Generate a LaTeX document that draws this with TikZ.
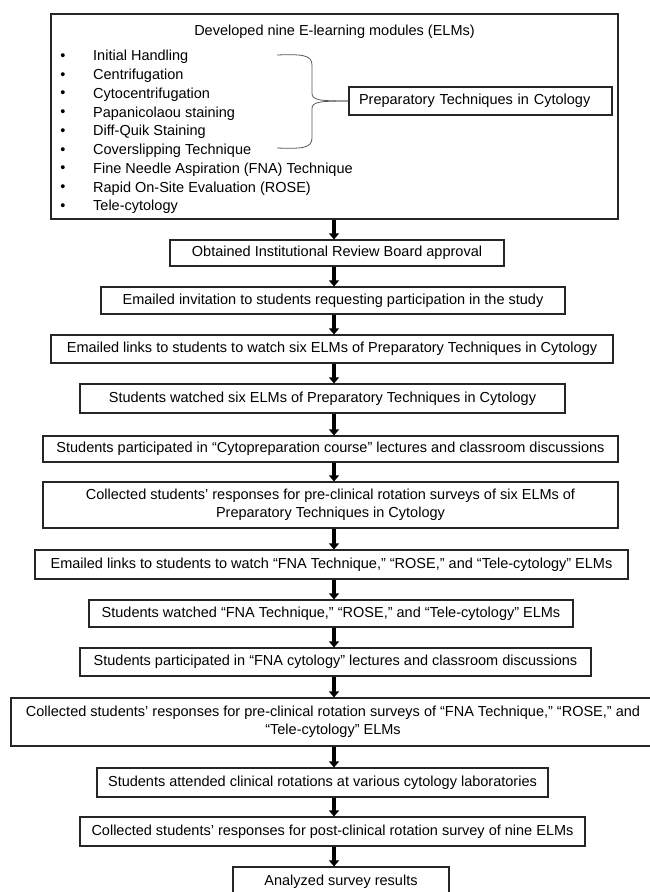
\documentclass[tikz,border=0pt]{standalone}
\usepackage{fontspec}
\setmainfont{Liberation Sans}
\usetikzlibrary{arrows.meta}

\newcommand{\flowfont}{\fontsize{14.5}{18.4}\selectfont}
\tikzset{
  stepbox/.style={draw=black!85, line width=1.2pt, inner sep=0pt, align=center, font=\flowfont},
  listtext/.style={inner sep=0pt, font=\flowfont},
  flowarrow/.style={line width=4.5pt, arrows={-Triangle[length=6pt, width=10pt]}},
  bracepath/.style={draw=black!65, line width=0.8pt},
}

\begin{document}
\begin{tikzpicture}[x=1pt, y=-1pt]
  \useasboundingbox (0,0) rectangle (649,892);
  \coordinate (spine) at (334,0);

  % module list
  \node [stepbox, minimum width=567pt, minimum height=205pt] (elm-box) at (334.5,116.5) {};
  \node [listtext] (elm-title) at (334.5,32) {Developed nine E-learning modules (ELMs)};
  \foreach \modname [count=\i] in {Initial Handling, Centrifugation, Cytocentrifugation,
      Papanicolaou staining, Diff-Quik Staining, Coverslipping Technique,
      Fine Needle Aspiration (FNA) Technique, Rapid On-Site Evaluation (ROSE), Tele-cytology}{
    \node [listtext] (bullet-\i) at (63,{57+18.75*(\i-1)}) {\textbullet};
    \node [listtext, anchor=west] (item-\i) at (93,{57+18.75*(\i-1)}) {\modname};
  }
  \node [stepbox, align=left, text width=243pt, inner xsep=10pt, minimum height=28pt] (prep-box) at (480.5,101) {Preparatory Techniques in Cytology};

  % brace over the six preparatory modules
  \coordinate (brace-top) at (277,55);
  \coordinate (brace-bottom) at (277,148);
  \draw [bracepath] (brace-top) .. controls (302,54) and (312,55) .. (312,65)
        -- (312,93) .. controls (312,100) and (318,101) .. (prep-box.west);
  \draw [bracepath] (brace-bottom) .. controls (302,149) and (312,148) .. (312,138)
        -- (312,109) .. controls (312,102) and (318,101) .. (prep-box.west);

  % steps
  \node [stepbox, minimum width=334pt, minimum height=26pt] (irb-box) at (337,253) {Obtained Institutional Review Board approval};
  \node [stepbox, minimum width=464pt, minimum height=27pt] (invite-box) at (333,300.5) {Emailed invitation to students requesting participation in the study};
  \node [stepbox, minimum width=562pt, minimum height=28pt] (links-prep-box) at (332,349) {Emailed links to students to watch six ELMs of Preparatory Techniques in Cytology};
  \node [stepbox, minimum width=485pt, minimum height=29pt] (watched-prep-box) at (322.5,398.5) {Students watched six ELMs of Preparatory Techniques in Cytology};
  \node [stepbox, minimum width=575pt, minimum height=26pt] (cytoprep-box) at (330.5,449) {Students participated in “Cytopreparation course” lectures and classroom discussions};
  \node [stepbox, minimum width=575pt, minimum height=46pt] (pre-survey-prep-box) at (330.5,505) {Collected students’ responses for pre-clinical rotation surveys of six ELMs of\\Preparatory Techniques in Cytology};
  \node [stepbox, minimum width=593pt, minimum height=29pt] (links-fna-box) at (331.5,564.5) {Emailed links to students to watch “FNA Technique,” “ROSE,” and “Tele-cytology” ELMs};
  \node [stepbox, minimum width=484pt, minimum height=27pt] (watched-fna-box) at (331,613.5) {Students watched “FNA Technique,” “ROSE,” and “Tele-cytology” ELMs};
  \node [stepbox, minimum width=511pt, minimum height=28pt] (fna-lecture-box) at (335.5,662) {Students participated in “FNA cytology” lectures and classroom discussions};
  \node [stepbox, minimum width=644pt, minimum height=48pt] (pre-survey-fna-box) at (333,722) {Collected students’ responses for pre-clinical rotation surveys of “FNA Technique,” “ROSE,” and\\“Tele-cytology” ELMs};
  \node [stepbox, minimum width=451pt, minimum height=29pt] (rotation-box) at (322.5,782.5) {Students attended clinical rotations at various cytology laboratories};
  \node [stepbox, minimum width=505pt, minimum height=29pt] (post-survey-box) at (332.5,831.5) {Collected students’ responses for post-clinical rotation survey of nine ELMs};
  \node [stepbox, minimum width=216pt, minimum height=30pt] (analysis-box) at (341,882) {Analyzed survey results};

  % arrows down the spine
  \foreach \from/\to in {elm-box/irb-box, irb-box/invite-box, invite-box/links-prep-box,
      links-prep-box/watched-prep-box, watched-prep-box/cytoprep-box,
      cytoprep-box/pre-survey-prep-box, pre-survey-prep-box/links-fna-box,
      links-fna-box/watched-fna-box, watched-fna-box/fna-lecture-box,
      fna-lecture-box/pre-survey-fna-box, pre-survey-fna-box/rotation-box,
      rotation-box/post-survey-box, post-survey-box/analysis-box}
    \draw [flowarrow] (\from.south -| spine) -- (\to.north -| spine);
\end{tikzpicture}
\end{document}
